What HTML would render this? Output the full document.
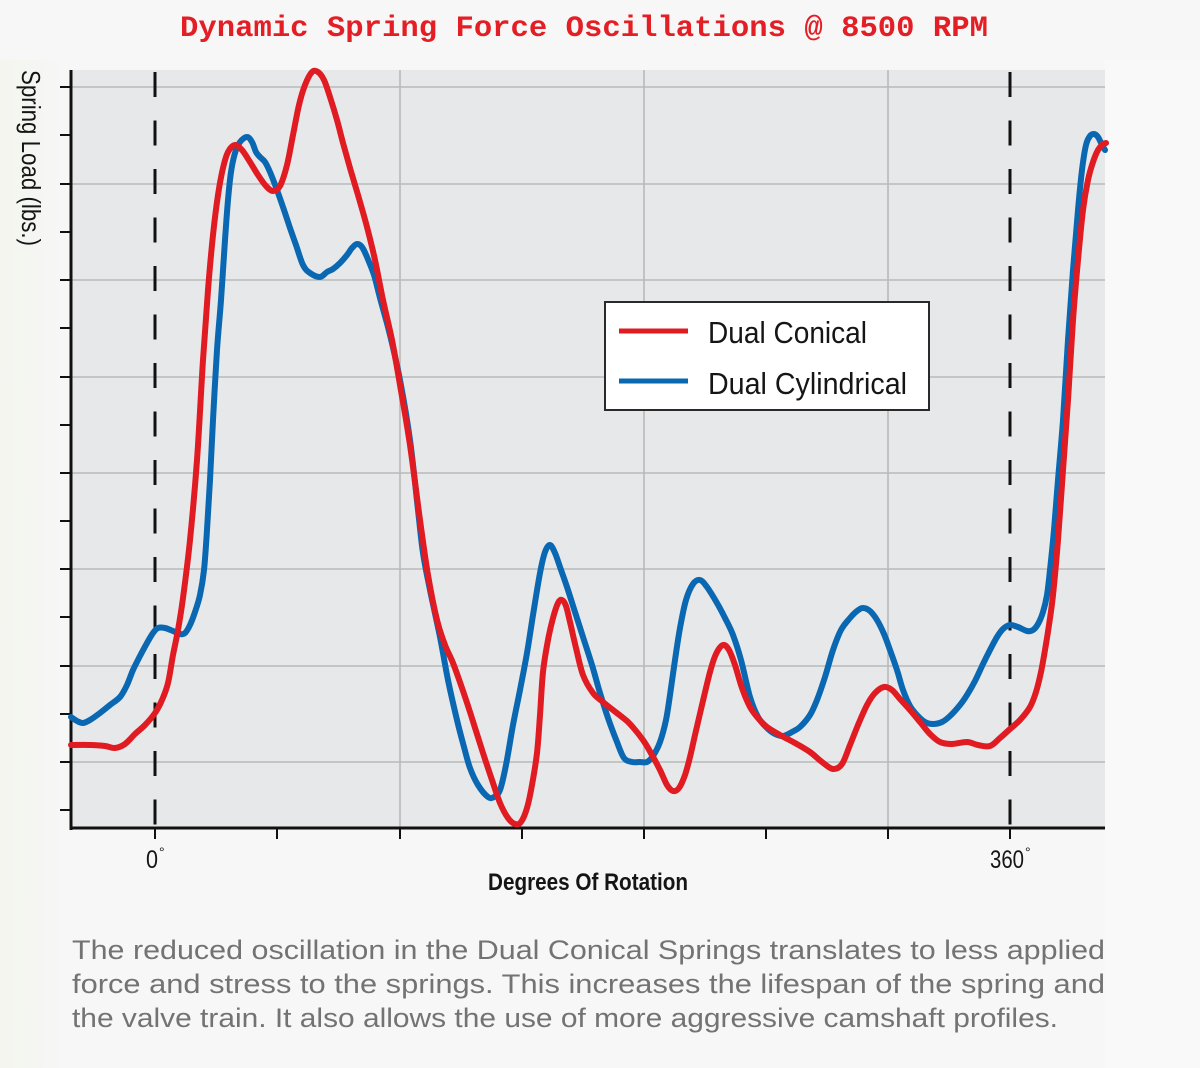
<!DOCTYPE html>
<html><head><meta charset="utf-8"><style>
html,body{margin:0;padding:0;background:#f7f7f7;}
svg{display:block;}
</style></head><body>
<svg width="1200" height="1068" viewBox="0 0 1200 1068" xmlns="http://www.w3.org/2000/svg">
<defs>
<linearGradient id="lg" x1="0" x2="1" y1="0" y2="0">
<stop offset="0" stop-color="#f3f5ee"/><stop offset="1" stop-color="#f7f7f7"/>
</linearGradient>
</defs>
<rect x="0" y="0" width="1200" height="1068" fill="#f7f7f7"/>
<rect x="0" y="60" width="70" height="1008" fill="url(#lg)"/>
<rect x="1105" y="60" width="95" height="1008" fill="#f9f9f9"/>
<!-- title -->
<text x="180" y="36" font-family="Liberation Mono, monospace" font-weight="bold" font-size="30" fill="#e31e24" textLength="808" lengthAdjust="spacingAndGlyphs">Dynamic Spring Force Oscillations @ 8500 RPM</text>
<!-- plot bg -->
<rect x="71" y="70" width="1034" height="758" fill="#e7e8e9"/>
<!-- grid -->
<g stroke="#b9b9b9" stroke-width="1.6">
<line x1="71" x2="1105" y1="87" y2="87"/>
<line x1="71" x2="1105" y1="184" y2="184"/>
<line x1="71" x2="1105" y1="280" y2="280"/>
<line x1="71" x2="1105" y1="377" y2="377"/>
<line x1="71" x2="1105" y1="473" y2="473"/>
<line x1="71" x2="1105" y1="569" y2="569"/>
<line x1="71" x2="1105" y1="666" y2="666"/>
<line x1="71" x2="1105" y1="762" y2="762"/>
<line x1="400" x2="400" y1="70" y2="828"/>
<line x1="644" x2="644" y1="70" y2="828"/>
<line x1="888" x2="888" y1="70" y2="828"/>
</g>
<!-- dashed lines -->
<g stroke="#111" stroke-width="3" stroke-dasharray="25 23.5">
<line x1="155" x2="155" y1="72" y2="828"/>
<line x1="1010" x2="1010" y1="72" y2="828"/>
</g>
<!-- axes -->
<g stroke="#111">
<line x1="71" x2="71" y1="70" y2="830" stroke-width="3"/>
<line x1="70" x2="1105" y1="828" y2="828" stroke-width="3"/>
<g stroke-width="2">
<line x1="60" x2="71" y1="87" y2="87"/><line x1="60" x2="71" y1="135" y2="135"/>
<line x1="60" x2="71" y1="184" y2="184"/><line x1="60" x2="71" y1="232" y2="232"/>
<line x1="60" x2="71" y1="280" y2="280"/><line x1="60" x2="71" y1="328" y2="328"/>
<line x1="60" x2="71" y1="377" y2="377"/><line x1="60" x2="71" y1="425" y2="425"/>
<line x1="60" x2="71" y1="473" y2="473"/><line x1="60" x2="71" y1="521" y2="521"/>
<line x1="60" x2="71" y1="569" y2="569"/><line x1="60" x2="71" y1="617" y2="617"/>
<line x1="60" x2="71" y1="666" y2="666"/><line x1="60" x2="71" y1="714" y2="714"/>
<line x1="60" x2="71" y1="762" y2="762"/><line x1="60" x2="71" y1="810" y2="810"/>
<line x1="155" x2="155" y1="828" y2="839"/><line x1="277" x2="277" y1="828" y2="839"/>
<line x1="400" x2="400" y1="828" y2="839"/><line x1="522" x2="522" y1="828" y2="839"/>
<line x1="644" x2="644" y1="828" y2="839"/><line x1="766" x2="766" y1="828" y2="839"/>
<line x1="888" x2="888" y1="828" y2="839"/><line x1="1010" x2="1010" y1="828" y2="839"/>
</g>
</g>
<!-- blue curve -->
<polyline class="sm" fill="none" stroke="#0a67b2" stroke-width="6" stroke-linejoin="round" stroke-linecap="round" points="71,717 77,721 83,723 90,720 100,713 110,705 120,697 127,685 133,670 140,656 147,643 153,633 158,628 165,628 173,631 180,634 185,633 190,625 195,612 200,595 204,570 207,530 210,480 213,420 217,350 221,300 225,240 228,200 231,172 235,153 240,142 247,137 252,142 256,152 260,157 265,162 270,172 277,190 284,210 290,228 296,245 303,265 310,273 320,277 327,272 333,269 340,263 347,255 352,248 357,244 362,247 367,257 374,275 380,298 390,335 400,380 410,440 418,510 423,553 430,590 440,637 448,680 457,720 464,747 470,768 478,785 488,797 494,797 500,790 506,765 513,725 520,690 527,653 533,615 540,573 545,552 550,545 555,553 560,567 567,587 575,612 583,637 592,665 600,693 608,718 617,742 624,758 632,762 640,762 647,762 653,756 660,742 666,720 670,695 675,660 680,628 686,600 693,584 700,580 707,587 717,603 725,618 733,635 741,660 750,697 758,717 767,728 775,734 783,736 792,732 800,727 810,715 817,700 825,677 833,650 841,630 850,618 857,611 863,608 870,611 877,620 884,634 890,650 897,670 903,690 910,706 917,715 925,722 933,724 942,722 950,716 960,705 967,695 975,681 983,664 990,650 997,637 1003,629 1010,625 1018,627 1027,631 1033,630 1038,624 1043,612 1047,595 1050,570 1054,530 1058,480 1063,420 1068,340 1073,270 1078,210 1082,170 1086,145 1090,136 1094,134 1098,137 1102,145 1105,150"/>
<!-- red curve -->
<polyline class="sm" fill="none" stroke="#e01b22" stroke-width="6" stroke-linejoin="round" stroke-linecap="round" points="71,745 90,745 105,746 115,748 125,744 135,734 145,725 155,713 162,700 168,683 173,655 178,630 183,598 190,540 197,460 203,360 208,290 213,235 218,195 223,168 228,152 235,145 242,150 250,162 258,175 266,186 273,191 280,186 287,165 293,135 299,105 305,85 312,72 318,72 324,80 330,97 337,120 343,143 350,168 358,195 367,227 375,260 383,300 392,340 400,385 410,445 420,520 428,575 437,620 445,645 453,663 462,688 470,712 483,753 492,780 500,803 508,818 515,824 521,822 527,808 532,785 537,753 540,715 543,672 548,640 553,618 558,603 562,600 566,606 570,622 576,648 583,675 593,693 603,702 613,710 622,717 630,724 643,740 652,755 660,770 667,785 673,791 679,788 685,775 690,757 695,735 702,705 710,672 716,654 723,645 729,650 735,665 742,688 750,707 758,718 767,727 780,735 795,743 810,752 822,762 833,769 842,764 850,745 858,725 867,705 875,693 884,687 892,690 900,699 910,710 920,722 930,734 940,742 952,744 967,742 978,745 990,746 1000,738 1010,729 1020,720 1030,707 1036,692 1041,672 1045,650 1049,625 1053,595 1058,540 1063,470 1068,400 1073,320 1078,260 1083,210 1088,180 1093,162 1098,150 1103,144 1106,143"/>
<!-- legend -->
<rect x="605" y="302" width="324" height="108" fill="#ffffff" stroke="#2a2a2a" stroke-width="2"/>
<line x1="619" x2="688" y1="331" y2="331" stroke="#e01b22" stroke-width="5"/>
<line x1="619" x2="688" y1="381" y2="381" stroke="#0a67b2" stroke-width="5"/>
<text x="708" y="343" font-family="Liberation Sans, sans-serif" font-size="31" fill="#151515" textLength="159" lengthAdjust="spacingAndGlyphs">Dual Conical</text>
<text x="708" y="394" font-family="Liberation Sans, sans-serif" font-size="31" fill="#151515" textLength="199" lengthAdjust="spacingAndGlyphs">Dual Cylindrical</text>
<!-- axis labels -->
<text transform="translate(22,70) rotate(90)" font-family="Liberation Sans, sans-serif" font-size="26" fill="#151515" textLength="176" lengthAdjust="spacingAndGlyphs">Spring Load (lbs.)</text>
<text x="146" y="868" font-family="Liberation Sans, sans-serif" font-size="25" fill="#151515" textLength="12" lengthAdjust="spacingAndGlyphs">0</text>
<text x="159" y="857" font-family="Liberation Sans, sans-serif" font-size="14" fill="#151515">°</text>
<text x="990" y="868" font-family="Liberation Sans, sans-serif" font-size="25" fill="#151515" textLength="34" lengthAdjust="spacingAndGlyphs">360</text>
<text x="1025" y="857" font-family="Liberation Sans, sans-serif" font-size="14" fill="#151515">°</text>
<text x="488" y="890" font-family="Liberation Sans, sans-serif" font-size="24" font-weight="bold" fill="#151515" textLength="200" lengthAdjust="spacingAndGlyphs">Degrees Of Rotation</text>
<!-- caption -->
<g font-family="Liberation Sans, sans-serif" font-size="26.5" fill="#737373">
<text x="72" y="959" textLength="1033" lengthAdjust="spacingAndGlyphs">The reduced oscillation in the Dual Conical Springs translates to less applied</text>
<text x="72" y="993" textLength="1033" lengthAdjust="spacingAndGlyphs">force and stress to the springs. This increases the lifespan of the spring and</text>
<text x="72" y="1027" textLength="986" lengthAdjust="spacingAndGlyphs">the valve train. It also allows the use of more aggressive camshaft profiles.</text>
</g>
</svg>
<script>
(function(){
  var NS="http://www.w3.org/2000/svg";
  var pls=document.querySelectorAll("polyline.sm");
  for(var k=0;k<pls.length;k++){
    var pl=pls[k];
    var raw=pl.getAttribute("points").trim().split(/\s+/).map(function(s){var a=s.split(",");return [parseFloat(a[0]),parseFloat(a[1])];});
    var d="M"+raw[0][0]+","+raw[0][1];
    for(var i=0;i<raw.length-1;i++){
      var p0=raw[i>0?i-1:i],p1=raw[i],p2=raw[i+1],p3=raw[i+2<raw.length?i+2:i+1];
      var c1x=p1[0]+(p2[0]-p0[0])/6,c1y=p1[1]+(p2[1]-p0[1])/6;
      var c2x=p2[0]-(p3[0]-p1[0])/6,c2y=p2[1]-(p3[1]-p1[1])/6;
      d+=" C"+c1x.toFixed(2)+","+c1y.toFixed(2)+" "+c2x.toFixed(2)+","+c2y.toFixed(2)+" "+p2[0]+","+p2[1];
    }
    var path=document.createElementNS(NS,"path");
    path.setAttribute("d",d);
    ["fill","stroke","stroke-width","stroke-linejoin","stroke-linecap"].forEach(function(a){path.setAttribute(a,pl.getAttribute(a));});
    pl.parentNode.replaceChild(path,pl);
  }
})();
</script>
</body></html>
